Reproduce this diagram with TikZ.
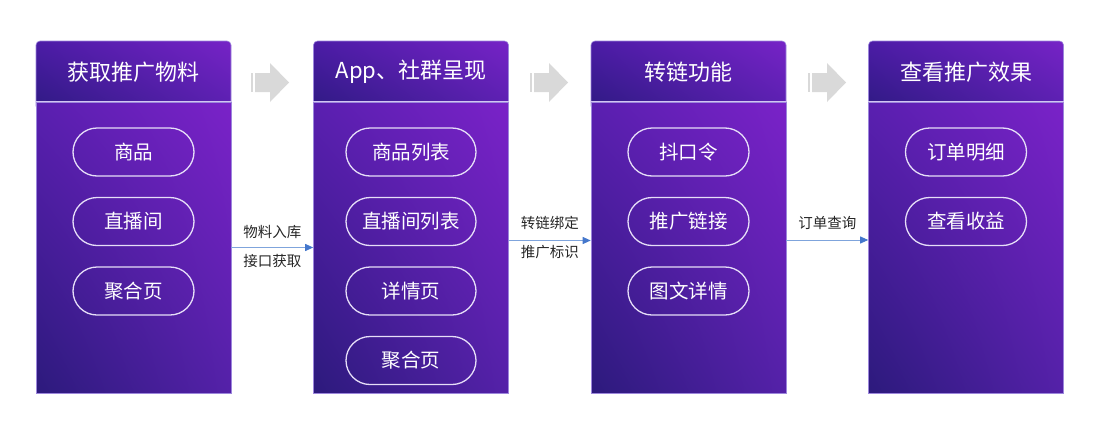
\documentclass[tikz,border=0pt]{standalone}
\usepackage{fontspec}
\setmainfont{Noto Sans CJK SC}
\usetikzlibrary{arrows.meta,shadings,positioning}
\definecolor{hdark}{HTML}{2E1A82}
\definecolor{hmidl}{HTML}{4C1CA6}
\definecolor{hmidr}{HTML}{5A20B0}
\definecolor{hlight}{HTML}{7623C6}
\definecolor{bdark}{HTML}{2C1A7C}
\definecolor{bmidl}{HTML}{5A1FB0}
\definecolor{bmidr}{HTML}{5421A8}
\definecolor{blight}{HTML}{7A22C8}
\definecolor{edge}{HTML}{9C86DC}
\definecolor{divline}{HTML}{D2C6F2}
\definecolor{pillline}{HTML}{E6DEF8}
\definecolor{arrgray}{HTML}{D9D9D9}
\definecolor{linkline}{HTML}{7FA4DC}
\definecolor{linkhead}{HTML}{4477CC}
\tikzstyle{head}    = [rectangle, rounded corners=4pt, minimum width=195pt, minimum height=69pt, inner sep=0pt,
                       shade, shading=bilinear interpolation, lower left=hdark, upper right=hlight,
                       upper left=hmidl, lower right=hmidr, draw=edge, line width=0.6pt]
\tikzstyle{body}    = [rectangle, minimum width=195pt, minimum height=291pt, inner sep=0pt,
                       shade, shading=bilinear interpolation, lower left=bdark, upper right=blight,
                       upper left=bmidl, lower right=bmidr, draw=edge, line width=0.6pt]
\tikzstyle{htext}   = [text=white, font=\fontsize{22pt}{26pt}\selectfont]
\tikzstyle{pill}    = [rectangle, rounded corners=24pt, minimum height=48pt, inner sep=0pt,
                       draw=pillline, line width=1.3pt, text=white, font=\fontsize{19.5pt}{23pt}\selectfont]
\tikzstyle{divider} = [divline, line width=1.5pt]
\tikzstyle{link}    = [linkline, line width=0.9pt, -{Triangle[length=8pt,width=7pt,color=linkhead]}]
\tikzstyle{lbl}     = [text=black!85, font=\fontsize{14.5pt}{17pt}\selectfont]

\begin{document}
\begin{tikzpicture}[x=1pt,y=-1pt]
    \useasboundingbox (0,0) rectangle (1094,434);
    % columns
    \foreach \i/\cx/\w/\title/\items in {
        1/133.5/121/{获取推广物料}/{商品,直播间,聚合页},
        2/411/130/{App、社群呈现}/{商品列表,直播间列表,详情页,聚合页},
        3/688.5/121/{转链功能}/{抖口令,推广链接,图文详情},
        4/966/121/{查看推广效果}/{订单明细,查看收益}} {
      \node[head] (head\i) at (\cx,75.5) {};
      \node[body] (body\i) at (\cx,247.5) {};
      \draw[divider] (body\i.north west) -- (body\i.north east);
      \node[htext] (title\i) at (\cx,72) {\title};
      \foreach \txt [count=\j] in \items {
        \node[pill, minimum width=\w pt] (pill\i\j) at (\cx,{152+69.5*(\j-1)}) {\txt};
      }
    }
    % gray step arrows
    \foreach \x in {251,530,808} {
      \fill[arrgray] (\x,73) rectangle ++(2,19);
      \fill[arrgray] (\x+4,73) -- ++(15,0) -- ++(0,-10) -- ++(19,19.5) -- ++(-19,19.5) -- ++(0,-10) -- ++(-15,0) -- cycle;
    }
    % links
    \draw[link] (body1.east) -- (body2.west)
      node[lbl, midway, above=5pt] (lab1) {物料入库}
      node[lbl, midway, below=3.5pt] (lab2) {接口获取};
    \draw[link] ([yshift=7pt]body2.east) -- ([yshift=7pt]body3.west)
      node[lbl, midway, above=7pt] (lab3) {转链绑定}
      node[lbl, midway, below=1.5pt] (lab4) {推广标识};
    \draw[link] ([yshift=7.5pt]body3.east) -- ([yshift=7.5pt]body4.west)
      node[lbl, midway, above=6.5pt] (lab5) {订单查询};
\end{tikzpicture}
\end{document}
